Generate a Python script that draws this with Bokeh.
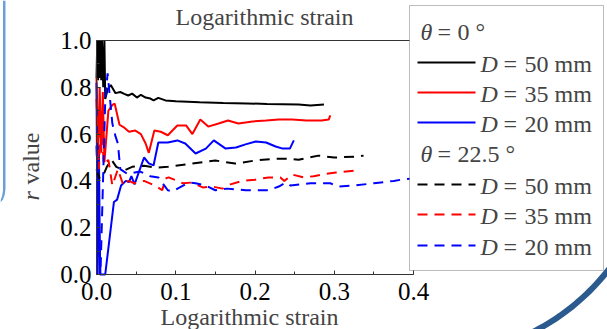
import numpy as np
from bokeh.plotting import figure
from bokeh.models import (Range1d, FixedTicker, PrintfTickFormatter, Label,
                          BoxAnnotation, Arrow, PolyAnnotation, LinearAxis)
from bokeh.embed import file_html
from bokeh.resources import INLINE

# ---------------- data ----------------
# theta = 0 deg, D = 50 mm  (early spikes run off the top of the axes at 1.0)
x_0_50 = [0.000, 0.001, 0.002, 0.003, 0.004, 0.005, 0.006, 0.007, 0.0085, 0.010,
          0.011, 0.014, 0.018, 0.024, 0.030, 0.035, 0.040, 0.045, 0.051, 0.056,
          0.062, 0.068, 0.072, 0.078, 0.087, 0.100, 0.130, 0.160, 0.190, 0.215,
          0.235, 0.255, 0.270, 0.287]
r_0_50 = [0.84, 1.00, 0.83, 1.00, 0.84, 1.00, 0.83, 1.00, 0.80, 1.00,
          0.75, 0.79, 0.81, 0.775, 0.780, 0.772, 0.765, 0.773, 0.756, 0.768,
          0.756, 0.752, 0.744, 0.755, 0.744, 0.740, 0.736, 0.733, 0.731, 0.729,
          0.728, 0.727, 0.722, 0.726]

# theta = 0 deg, D = 35 mm
x_0_35 = [0.000, 0.002, 0.004, 0.006, 0.008, 0.010, 0.015, 0.020, 0.023, 0.029,
          0.034, 0.041, 0.049, 0.056, 0.062, 0.066, 0.073, 0.081, 0.090, 0.102,
          0.113, 0.121, 0.131, 0.141, 0.154, 0.166, 0.179, 0.197, 0.214, 0.230,
          0.247, 0.265, 0.284, 0.293, 0.295]
r_0_35 = [0.84, 0.50, 0.80, 0.52, 0.78, 0.48, 0.70, 0.725, 0.730, 0.640,
          0.630, 0.610, 0.615, 0.600, 0.560, 0.520, 0.615, 0.610, 0.595, 0.637,
          0.637, 0.600, 0.662, 0.632, 0.645, 0.658, 0.645, 0.654, 0.658, 0.662,
          0.662, 0.658, 0.658, 0.662, 0.680]

# theta = 0 deg, D = 20 mm
x_0_20 = [0.000, 0.0015, 0.003, 0.0045, 0.011, 0.022, 0.026, 0.031, 0.037, 0.041,
          0.044, 0.048, 0.060, 0.066, 0.072, 0.078, 0.090, 0.102, 0.112, 0.125,
          0.138, 0.148, 0.163, 0.176, 0.188, 0.201, 0.214, 0.226, 0.235, 0.244,
          0.249]
r_0_20 = [0.82, 0.00, 0.55, 0.00, 0.00, 0.31, 0.32, 0.38, 0.40, 0.395,
          0.42, 0.385, 0.50, 0.475, 0.466, 0.564, 0.564, 0.573, 0.560, 0.517,
          0.538, 0.573, 0.538, 0.543, 0.556, 0.568, 0.564, 0.547, 0.538, 0.538,
          0.573]

# theta = 22.5 deg, D = 50 mm
x_22_50 = [0.000, 0.004, 0.008, 0.013, 0.019, 0.025, 0.035, 0.045, 0.060, 0.075,
           0.090, 0.120, 0.150, 0.175, 0.200, 0.225, 0.240, 0.255, 0.280, 0.300,
           0.330, 0.337]
r_22_50 = [0.45, 0.41, 0.42, 0.46, 0.49, 0.46, 0.445, 0.46, 0.465, 0.457,
           0.46, 0.474, 0.487, 0.474, 0.487, 0.495, 0.495, 0.490, 0.508, 0.500,
           0.504, 0.508]

# theta = 22.5 deg, D = 35 mm
x_22_35 = [0.000, 0.003, 0.006, 0.009, 0.015, 0.020, 0.027, 0.034, 0.040, 0.048,
           0.060, 0.074, 0.083, 0.087, 0.091, 0.109, 0.121, 0.134, 0.146, 0.159,
           0.169, 0.184, 0.200, 0.217, 0.232, 0.237, 0.247, 0.261, 0.274, 0.289,
           0.302, 0.325]
r_22_35 = [0.75, 0.45, 0.70, 0.47, 0.49, 0.38, 0.45, 0.38, 0.40, 0.39,
           0.40, 0.38, 0.36, 0.41, 0.415, 0.39, 0.393, 0.372, 0.376, 0.367,
           0.385, 0.40, 0.405, 0.415, 0.415, 0.40, 0.427, 0.415, 0.42, 0.43,
           0.436, 0.444]

# theta = 22.5 deg, D = 20 mm
x_22_20 = [0.000, 0.005, 0.011, 0.014, 0.020, 0.024, 0.027, 0.030, 0.039, 0.055,
           0.068, 0.078, 0.090, 0.096, 0.116, 0.125, 0.138, 0.150, 0.165, 0.188,
           0.200, 0.217, 0.230, 0.239, 0.245, 0.270, 0.295, 0.305, 0.325, 0.350,
           0.375, 0.386, 0.400]
r_22_20 = [0.55, 0.00, 0.74, 0.86, 0.645, 0.59, 0.56, 0.45, 0.43, 0.44,
           0.42, 0.415, 0.36, 0.355, 0.393, 0.39, 0.38, 0.36, 0.367, 0.36,
           0.36, 0.36, 0.376, 0.393, 0.38, 0.39, 0.39, 0.376, 0.38, 0.39,
           0.40, 0.406, 0.41]

x_ticks = [0.0, 0.1, 0.2, 0.3, 0.4]
y_ticks = [0.0, 0.2, 0.4, 0.6, 0.8, 1.0]

series = [
    (x_0_50, r_0_50, "black", None),
    (x_0_35, r_0_35, "red", None),
    (x_0_20, r_0_20, "blue", None),
    (x_22_50, r_22_50, "black", "10 7"),
    (x_22_35, r_22_35, "red", "10 7"),
    (x_22_20, r_22_20, "blue", "10 7"),
]

FONT = "Liberation Serif"
FS = "24px"
TICK_FS = "25px"

# ---------------- geometry (pixels) ----------------
W, H = 607, 329
X0, X1 = 96, 413      # pixel of x = 0 and x = 0.4
Y0, Y1 = 274, 40      # pixel of y = 0 and y = 1.0
xs_per = (X1 - X0) / (x_ticks[-1] - x_ticks[0])
ys_per = (Y0 - Y1) / (y_ticks[-1] - y_ticks[0])
x_rng = Range1d(x_ticks[0] - X0 / xs_per, x_ticks[-1] + (W - X1) / xs_per)
y_rng = Range1d(y_ticks[0] - (H - Y0) / ys_per, y_ticks[-1] + Y1 / ys_per)

p = figure(width=W, height=H, output_backend="svg", toolbar_location=None,
           x_range=x_rng, y_range=y_rng, x_axis_location=None,
           y_axis_location=None, min_border=0)
p.grid.visible = False
p.outline_line_color = None
p.background_fill_color = "white"
p.border_fill_color = "white"

AX_COL = "#333333"
x_minor = [a + (x_ticks[1] - x_ticks[0]) / 2 for a in x_ticks[:-1]]
y_minor = [a + (y_ticks[1] - y_ticks[0]) / 2 for a in y_ticks[:-1]]

def style_axis(ax, fs=TICK_FS):
    ax.formatter = PrintfTickFormatter(format="%.1f")
    ax.major_label_text_font = FONT
    ax.major_label_text_font_size = fs
    ax.major_label_text_color = "black"
    ax.axis_line_color = AX_COL
    ax.major_tick_line_color = AX_COL
    ax.minor_tick_line_color = AX_COL
    ax.major_tick_in = 4
    ax.major_tick_out = 0
    ax.minor_tick_in = 3
    ax.minor_tick_out = 0

xaxis = LinearAxis(fixed_location=y_ticks[0], bounds=(x_ticks[0], x_ticks[-1]),
                   ticker=FixedTicker(ticks=x_ticks, minor_ticks=x_minor))
style_axis(xaxis)
xaxis.major_label_standoff = 8
p.add_layout(xaxis, "below")

yaxis = LinearAxis(fixed_location=x_ticks[0], bounds=(y_ticks[0], y_ticks[-1]),
                   ticker=FixedTicker(ticks=y_ticks, minor_ticks=y_minor))
style_axis(yaxis)
yaxis.major_label_standoff = 5
p.add_layout(yaxis, "left")

# top and right spines as bare axes
for loc, side, bnds in [(y_ticks[-1], "above", (x_ticks[0], x_ticks[-1])),
                        (x_ticks[-1], "right", (y_ticks[0], y_ticks[-1]))]:
    sp = LinearAxis(fixed_location=loc, bounds=bnds,
                    ticker=FixedTicker(ticks=[], minor_ticks=[]))
    sp.axis_line_color = AX_COL
    sp.major_label_text_font_size = "0px"
    sp.major_tick_line_color = None
    sp.minor_tick_line_color = None
    p.add_layout(sp, side)

for xs, ys, col, dash in series:
    if dash is None:
        p.line(xs, ys, line_color=col, line_width=2)
    else:
        p.line(xs, ys, line_color=col, line_width=2, line_dash=dash)

# page pixel -> screen units (frame == whole canvas, y measured upward)
def sx(px):
    return px
def sy(py):
    return H - py

TXT_SHIFT = 7  # text renders this much below the requested baseline

def lab(x, y, text, style="normal", rotated=False, **kw):
    if rotated:
        x, ang = x - TXT_SHIFT, np.pi / 2
    else:
        y, ang = y - TXT_SHIFT, 0.0
    p.add_layout(Label(x=sx(x), y=sy(y), x_units="screen", y_units="screen",
                       text=text, text_baseline="alphabetic", text_font=FONT,
                       text_font_size=FS, text_font_style=style, angle=ang, **kw))

# titles / axis labels
lab(264, 23, "Logarithmic strain", text_align="center")
lab(249, 323, "Logarithmic strain", text_align="center")
lab(37, 200, "r", style="italic", rotated=True, text_align="left")
lab(37, 184, "value", rotated=True, text_align="left")

# decorative frame pieces of the source figure
ang = np.linspace(np.radians(25), np.radians(75), 60)
cx, cy, r_out, r_in = 430, 130, 229, 223
arc_x = list(cx + r_out * np.cos(ang)) + list(cx + r_in * np.cos(ang[::-1]))
arc_y = list(cy + r_out * np.sin(ang)) + list(cy + r_in * np.sin(ang[::-1]))
p.add_layout(PolyAnnotation(xs=[sx(v) for v in arc_x], ys=[sy(v) for v in arc_y],
                            xs_units="screen", ys_units="screen",
                            fill_color="#2b5a8e", fill_alpha=1.0, line_color=None))
lx = [2.5, 5.0, 5.0, 4.3, 2.5, 0.0, 0.0, 1.5, 2.5]
ly = [0.0, 0.0, 188, 194, 199, 202, 199.5, 196, 190]
p.add_layout(PolyAnnotation(xs=[sx(v) for v in lx], ys=[sy(v) for v in ly],
                            xs_units="screen", ys_units="screen",
                            fill_color="#6a9fd8", fill_alpha=1.0, line_color=None))

# legend box
p.add_layout(BoxAnnotation(left=sx(409), right=sx(603), top=sy(5), bottom=sy(270),
                           left_units="screen", right_units="screen",
                           top_units="screen", bottom_units="screen",
                           fill_color="white", fill_alpha=1.0,
                           line_color="#222222", line_width=1))

for txt, base in [("0 °", 38), ("22.5 °", 160)]:
    lab(420, base, "θ", style="italic")
    lab(437, base, "=")
    lab(457, base, txt)

entries = [("50 mm", "black", None, 70), ("35 mm", "red", None, 100),
           ("20 mm", "blue", None, 130), ("50 mm", "black", "10 7", 192),
           ("35 mm", "red", "10 7", 222), ("20 mm", "blue", "10 7", 253)]
for txt, col, dash, base in entries:
    kw = dict(line_dash=dash) if dash else {}
    p.add_layout(Arrow(end=None, x_start=sx(417), y_start=sy(base - 8),
                       x_end=sx(475), y_end=sy(base - 8),
                       start_units="screen", end_units="screen",
                       line_color=col, line_width=2, **kw))
    lab(480, base, "D", style="italic")
    lab(503, base, "=")
    lab(524, base, txt)

open("out.html", "w").write(file_html(p, INLINE))
